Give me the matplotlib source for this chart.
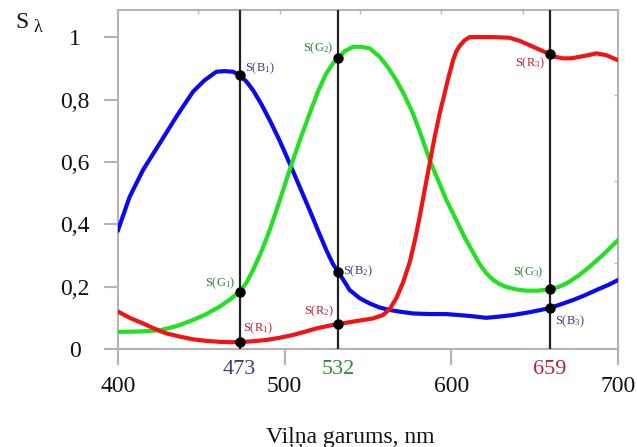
import matplotlib
matplotlib.use("Agg")
import matplotlib.pyplot as plt
import numpy as np

plt.rcParams['font.family'] = ['Liberation Serif', 'DejaVu Serif']
plt.rcParams['mathtext.fontset'] = 'custom'
plt.rcParams['mathtext.rm'] = 'Liberation Serif'
plt.rcParams['mathtext.it'] = 'Liberation Serif:italic'

# Data
blue_x = [400, 407, 415, 425, 435, 445, 452, 459, 464, 469, 473, 477, 481, 486, 491, 497, 503, 509, 515, 520, 525, 529, 532, 536, 539, 545, 551, 557, 563, 570, 577, 587, 597, 604, 611, 616, 621, 629, 637, 647, 658, 665, 673, 680, 687, 694, 700]
blue_y = [0.381, 0.488, 0.574, 0.659, 0.745, 0.825, 0.862, 0.889, 0.891, 0.889, 0.878, 0.858, 0.83, 0.785, 0.734, 0.668, 0.595, 0.52, 0.445, 0.38, 0.317, 0.272, 0.248, 0.215, 0.189, 0.163, 0.146, 0.133, 0.125, 0.119, 0.114, 0.112, 0.112, 0.109, 0.106, 0.103, 0.100, 0.104, 0.109, 0.118, 0.13, 0.142, 0.157, 0.172, 0.189, 0.205, 0.221]

green_x = [400, 412, 425, 435, 445, 453, 461, 467, 473, 477, 481, 486, 491, 497, 503, 509, 515, 520, 525, 529, 532, 536, 541, 546, 551, 557, 562, 567, 572, 577, 582, 587, 592, 597, 603, 608, 613, 617, 621, 625, 629, 633, 639, 645, 652, 658, 664, 669, 676, 683, 691, 700]
green_y = [0.055, 0.056, 0.06, 0.073, 0.093, 0.112, 0.136, 0.158, 0.184, 0.212, 0.253, 0.312, 0.381, 0.476, 0.574, 0.668, 0.755, 0.826, 0.884, 0.916, 0.932, 0.955, 0.969, 0.969, 0.964, 0.937, 0.903, 0.862, 0.812, 0.755, 0.683, 0.606, 0.542, 0.478, 0.413, 0.358, 0.31, 0.272, 0.243, 0.222, 0.208, 0.199, 0.191, 0.187, 0.187, 0.191, 0.198, 0.21, 0.234, 0.264, 0.302, 0.349]

red_x = [400, 407, 415, 422, 429, 437, 445, 453, 461, 467, 473, 481, 489, 497, 505, 512, 519, 526, 532, 539, 547, 553, 559, 563, 567, 571, 575, 578, 581, 584, 587, 590, 593, 596, 598, 601, 603, 605, 608, 611, 618, 625, 635, 641, 647, 652, 658, 662, 667, 672, 677, 682, 687, 693, 700]
red_y = [0.12, 0.1, 0.082, 0.065, 0.05, 0.04, 0.031, 0.026, 0.023, 0.022, 0.022, 0.025, 0.029, 0.036, 0.045, 0.055, 0.066, 0.074, 0.08, 0.086, 0.093, 0.098, 0.109, 0.128, 0.163, 0.213, 0.278, 0.345, 0.424, 0.51, 0.595, 0.68, 0.755, 0.82, 0.865, 0.925, 0.955, 0.972, 0.99, 1.0, 1.0, 1.0, 0.998, 0.988, 0.974, 0.962, 0.948, 0.937, 0.932, 0.932, 0.937, 0.942, 0.948, 0.942, 0.926]

marker_wl = [473, 532, 659]
marker_colors = ['#3a3a8c', '#2e8b3e', '#c0203a']
xticks = [400, 500, 600, 700]
yticks = [0, 0.2, 0.4, 0.6, 0.8, 1.0]
ytick_labels = ['0', '0,2', '0,4', '0,6', '0,8', '1']

W, H = 637, 447
fig = plt.figure(figsize=(W / 100, H / 100), dpi=100)
ax = fig.add_axes([118 / W, (H - 349) / H, 500 / W, 339 / H])
ax.set_xlim(400, 700)
ax.set_ylim(0, 1.087)

spine_c = '#b4b4b4'
for s in ax.spines.values():
    s.set_color(spine_c)
    s.set_linewidth(1.5)

lw = 3.0
ax.plot(blue_x, blue_y, color='#0a0aee', lw=lw, solid_joinstyle='round', zorder=3)
ax.plot(green_x, green_y, color='#22e022', lw=lw, solid_joinstyle='round', zorder=3)
ax.plot(red_x, red_y, color='#f01414', lw=lw, solid_joinstyle='round', zorder=3)

for wl in marker_wl:
    ax.axvline(wl, color='#222222', lw=1.6, zorder=4)
    for xs, ys in [(blue_x, blue_y), (green_x, green_y), (red_x, red_y)]:
        v = np.interp(wl, xs, ys)
        ax.plot([wl], [v], 'o', color='black', ms=6.5, zorder=5, clip_on=False)

bc, gc, rc = '#3a3a8c', '#2e7d3a', '#b8202e'
fs = 9
ax.text(476, 0.90, 'S(B$_1$)', color=bc, fontsize=fs, ha='left', va='center')
ax.text(475, 0.065, 'S(R$_1$)', color=rc, fontsize=fs, ha='left', va='center')
ax.text(470.5, 0.21, 'S(G$_1$)', color=gc, fontsize=fs, ha='right', va='center')
ax.text(529.5, 0.965, 'S(G$_2$)', color=gc, fontsize=fs, ha='right', va='center')
ax.text(535, 0.25, 'S(B$_2$)', color=bc, fontsize=fs, ha='left', va='center')
ax.text(529.5, 0.12, 'S(R$_2$)', color=rc, fontsize=fs, ha='right', va='center')
ax.text(656, 0.915, 'S(R$_3$)', color=rc, fontsize=fs, ha='right', va='center')
ax.text(655, 0.245, 'S(G$_3$)', color=gc, fontsize=fs, ha='right', va='center')
ax.text(662, 0.09, 'S(B$_3$)', color=bc, fontsize=fs, ha='left', va='center')

for wl, c in zip(marker_wl, marker_colors):
    ax.text(wl, -0.067, str(wl), color=c, fontsize=16, ha='center', va='center')

ax.set_xticks(xticks)
ax.set_xticklabels([str(v) for v in xticks])
ax.set_yticks(yticks)
ax.set_yticklabels(ytick_labels)
ax.tick_params(axis='x', direction='out', length=11.5, width=1.5, color=spine_c,
               labelsize=17, pad=8, labelcolor='#111111')
ax.tick_params(axis='y', direction='out', length=10, width=1.5, color=spine_c,
               labelsize=17, pad=21, labelcolor='#111111')
for lab in ax.get_yticklabels():
    lab.set_horizontalalignment('center')

# faint inner ticks on top and right
top = ax.secondary_xaxis('top')
top.set_xticks([448, 497, 545, 594, 643])
top.tick_params(direction='in', length=3, color=spine_c, labeltop=False, width=1)
top.set_xticklabels([])
top.spines['top'].set_visible(False)
right = ax.secondary_yaxis('right')
right.set_yticks([0.276, 0.54, 0.814])
right.tick_params(direction='in', length=3, color=spine_c, width=1)
right.set_yticklabels([])
right.spines['right'].set_visible(False)

fig.text(22 / W, 1 - 22 / H, 'S', fontsize=17, ha='center', va='center', color='#111111')
fig.text(38 / W, 1 - 27 / H, 'λ', fontsize=13, ha='center', va='center', color='#111111')
fig.text(350 / W, 1 - 437 / H, 'Viļņa garums, nm', fontsize=17, ha='center', va='center', color='#111111')

fig.savefig('out.png', dpi=100)
